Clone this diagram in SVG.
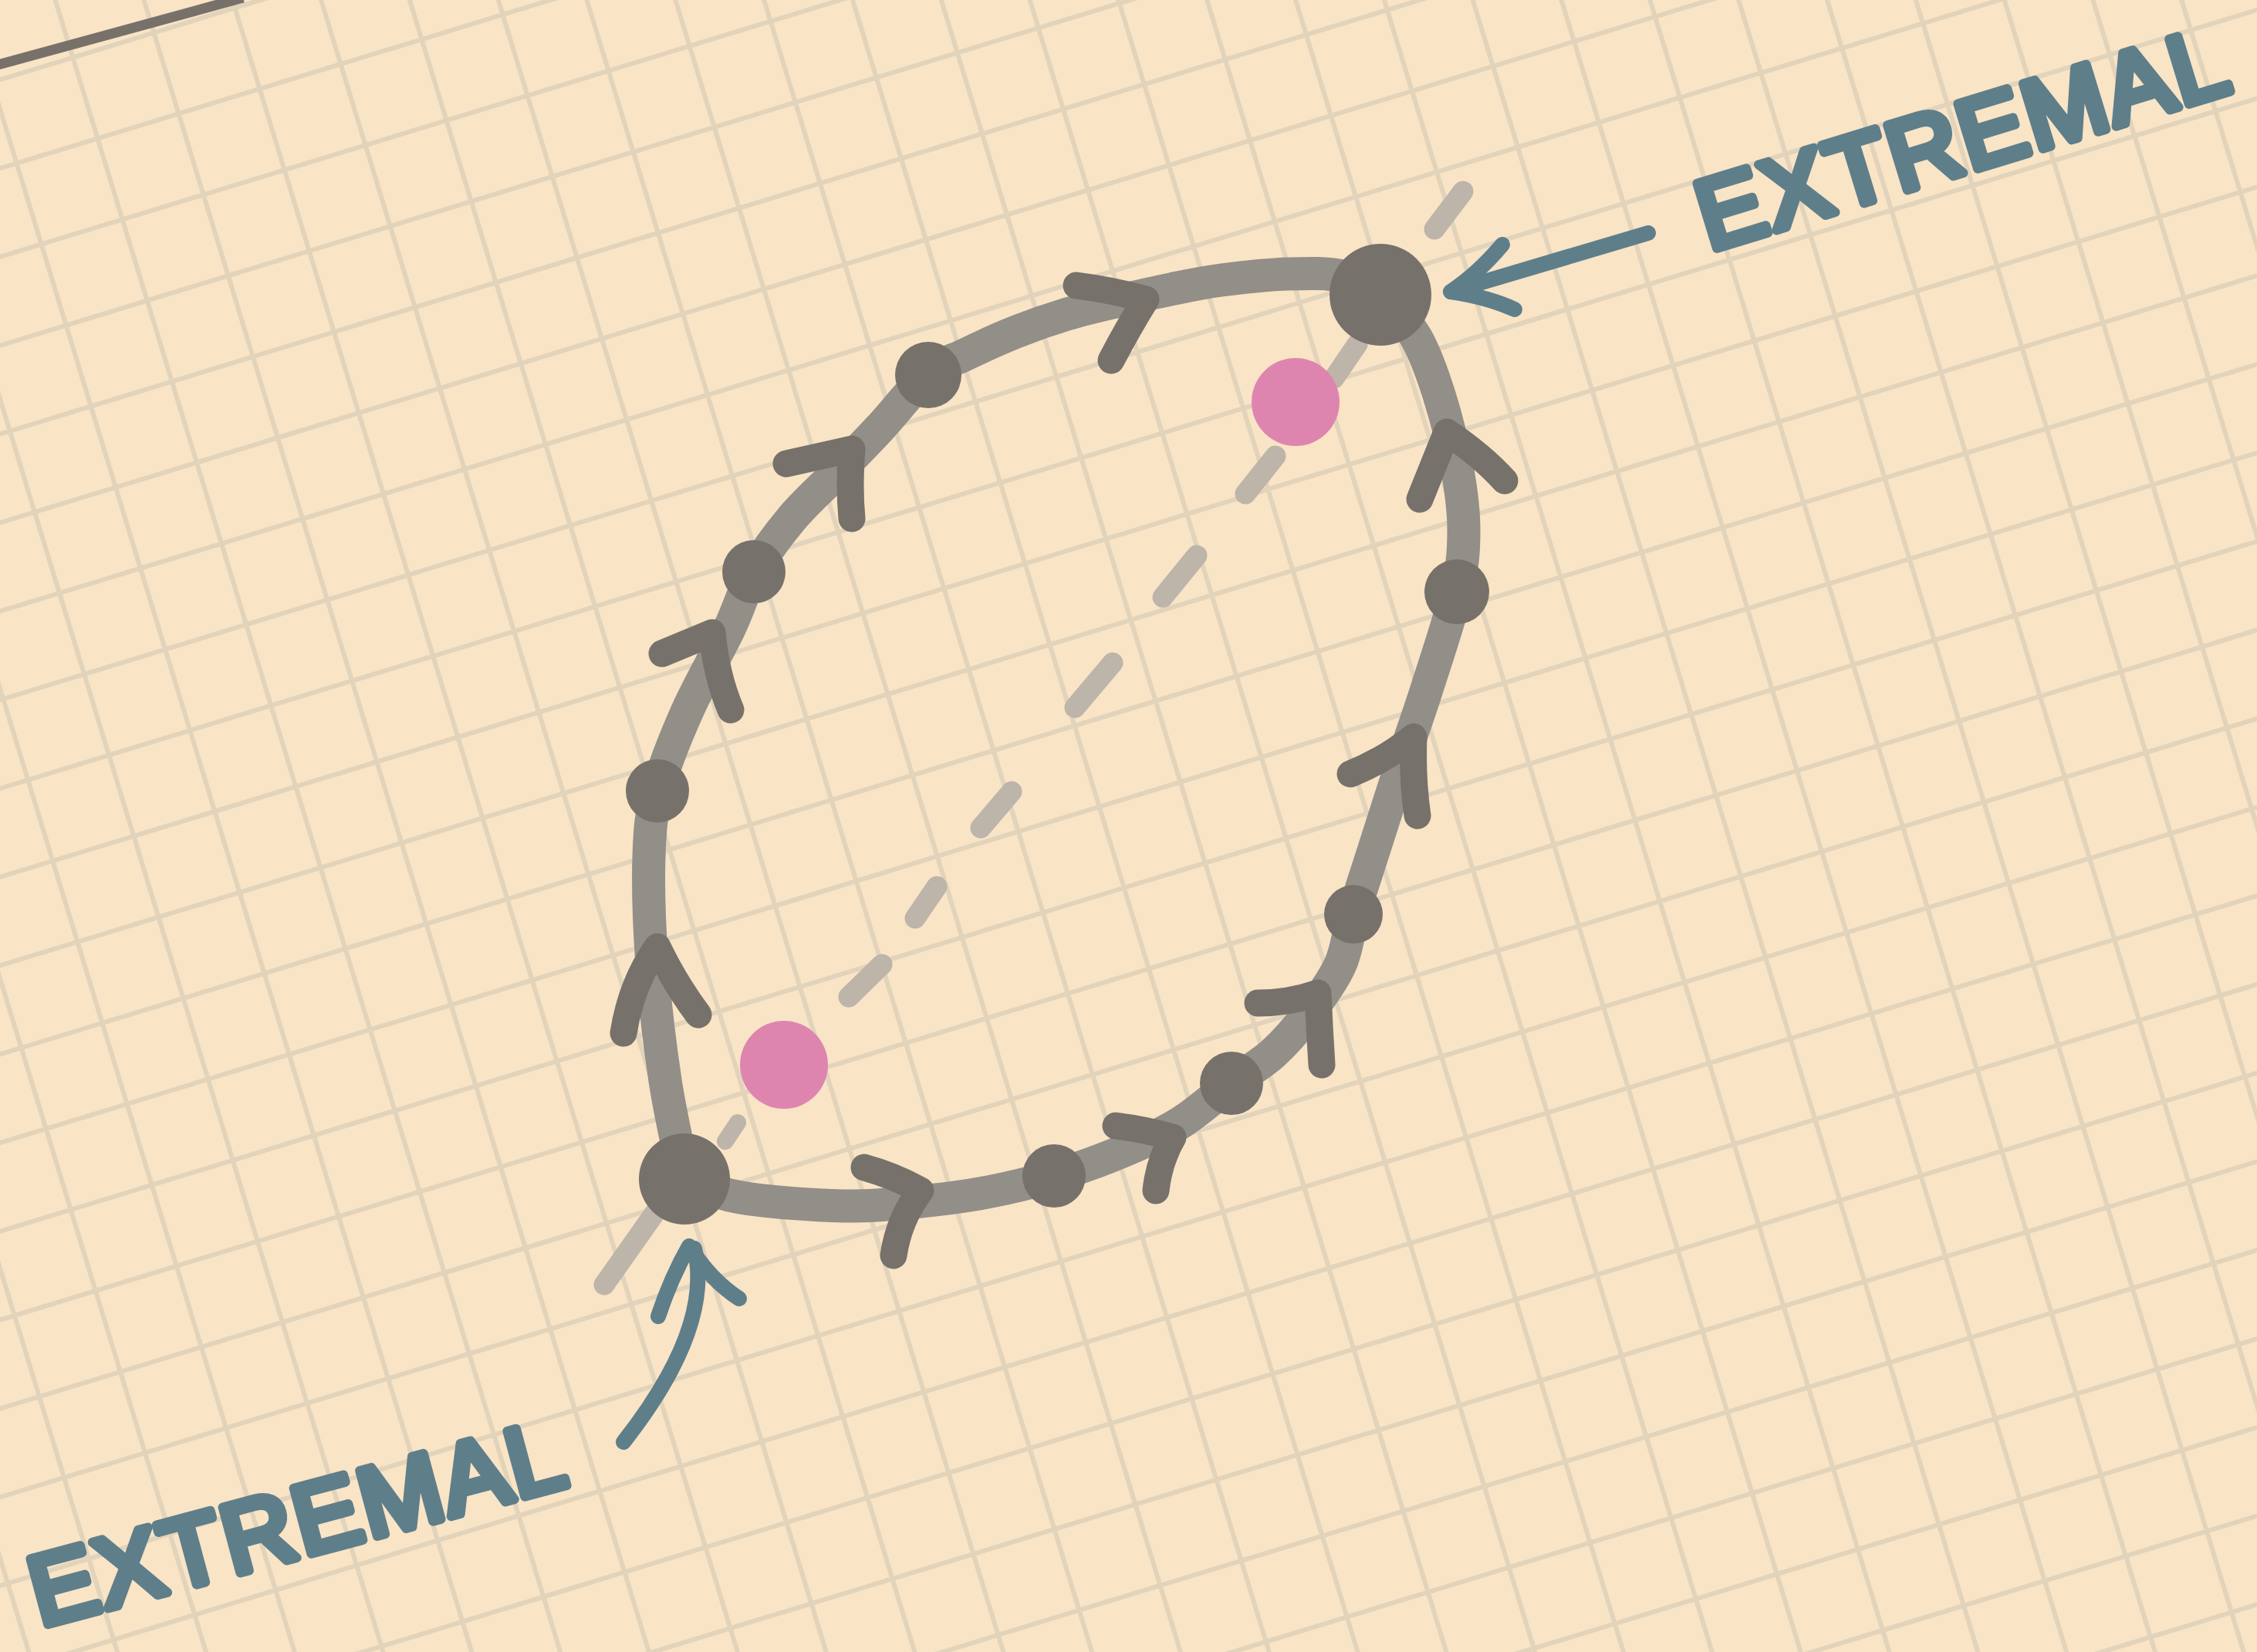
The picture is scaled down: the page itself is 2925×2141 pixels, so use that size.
<svg xmlns="http://www.w3.org/2000/svg" width="2925" height="2141" viewBox="0 0 2925 2141">
<style>
.grid{fill:none;stroke:#E2D3BB;stroke-width:6}
.loop{fill:none;stroke:#928E88;stroke-width:43;stroke-linecap:round;stroke-linejoin:round}
.chev{fill:none;stroke:#76716B;stroke-width:35;stroke-linecap:round;stroke-linejoin:round}
.dot{fill:#76716B}
.dash{fill:none;stroke:#BDB4AA;stroke-width:27;stroke-linecap:round}
.pink{fill:#DE85AF}
.blue{fill:none;stroke:#5E7E8A;stroke-width:20;stroke-linecap:round;stroke-linejoin:round}
.lbl{font-family:"Liberation Sans",Arial,sans-serif;font-weight:normal;font-size:128px;letter-spacing:3px;fill:#5E7E8A;stroke:#5E7E8A;stroke-width:12;stroke-linejoin:round;stroke-linecap:round}
</style>
<rect width="2925" height="2141" fill="#F9E4C6"/>
<g id="grid" transform="rotate(-17)">
<path class="grid" d="M-590.3 -60V3000M-480.5 -60V3000M-370.7 -60V3000M-260.9 -60V3000M-151.1 -60V3000M-41.3 -60V3000M68.5 -60V3000M178.3 -60V3000M288.1 -60V3000M397.9 -60V3000M507.7 -60V3000M617.5 -60V3000M727.3 -60V3000M837.1 -60V3000M946.9 -60V3000M1056.7 -60V3000M1166.5 -60V3000M1276.3 -60V3000M1386.1 -60V3000M1495.9 -60V3000M1605.7 -60V3000M1715.5 -60V3000M1825.3 -60V3000M1935.1 -60V3000M2044.9 -60V3000M2154.7 -60V3000M2264.5 -60V3000M2374.3 -60V3000M2484.1 -60V3000M2593.9 -60V3000M2703.7 -60V3000M2813.5 -60V3000"/>
<path class="grid" d="M-700 -11H2900M-700 98.8H2900M-700 208.6H2900M-700 318.4H2900M-700 428.2H2900M-700 538H2900M-700 647.8H2900M-700 757.6H2900M-700 867.4H2900M-700 977.2H2900M-700 1087H2900M-700 1196.8H2900M-700 1306.6H2900M-700 1416.4H2900M-700 1526.2H2900M-700 1636H2900M-700 1745.8H2900M-700 1855.6H2900M-700 1965.4H2900M-700 2075.2H2900M-700 2185H2900M-700 2294.8H2900M-700 2404.6H2900M-700 2514.4H2900M-700 2624.2H2900M-700 2734H2900M-700 2843.8H2900M-700 2953.6H2900"/>
</g>
<g id="edge-line">
<path d="M-10 86L315 -3" stroke="#77716A" stroke-width="13" fill="none"/>
</g>
<g id="dashed-line">
<path class="dash" d="M783 1665L855 1563"/>
<path class="dash" d="M940 1479L956 1455" style="stroke-width:22"/>
<path class="dash" d="M1100 1292L1143 1250"/>
<path class="dash" d="M1186 1190L1214 1149"/>
<path class="dash" d="M1271 1073L1311 1026"/>
<path class="dash" d="M1393 917L1442 859"/>
<path class="dash" d="M1507 774L1551 720"/>
<path class="dash" d="M1614 640L1653 591"/>
<path class="dash" d="M1729 490L1759 446"/>
<path class="dash" d="M1859 297L1896 248"/>
</g>
<g id="connectors">
<path id="path-upper" class="loop" d="M887 1528C878.7 1485.3 869 1446.3 862 1400C855 1353.7 848.5 1298.3 845 1250C841.5 1201.7 839.8 1147.5 841 1110C842.2 1072.5 843.8 1056.2 852 1025C860.2 993.8 874.5 958 890 923C905.5 888 930.5 845.3 945 815C959.5 784.7 963.5 764.8 977 741C990.5 717.2 1008 693.5 1026 672C1044 650.5 1066 631.5 1085 612C1104 592.5 1120.3 576.2 1140 555C1159.7 533.8 1184.7 500.8 1203 485C1221.3 469.2 1231 469.2 1250 460C1269 450.8 1294.8 438.8 1317 430C1339.2 421.2 1360.8 413.7 1383 407C1405.2 400.3 1427.7 395.3 1450 390C1472.3 384.7 1494.8 379.5 1517 375C1539.2 370.5 1557.5 366.3 1583 363C1608.5 359.7 1643.8 355.8 1670 355C1696.2 354.2 1720.2 353.5 1740 358C1759.8 362.5 1772.7 374 1789 382"/>
<path id="path-lower" class="loop" d="M887 1528C911.3 1536 925.7 1546.2 960 1552C994.3 1557.8 1054.2 1562.2 1093 1563C1131.8 1563.8 1161.8 1560 1193 1557C1224.2 1554 1251.2 1550.5 1280 1545C1308.8 1539.5 1336.8 1532.8 1366 1524C1395.2 1515.2 1427.7 1503.5 1455 1492C1482.3 1480.5 1506.5 1469.7 1530 1455C1553.5 1440.3 1576 1419 1596 1404C1616 1389 1633.2 1380.3 1650 1365C1666.8 1349.7 1682.5 1331.2 1697 1312C1711.5 1292.8 1727.5 1271.2 1737 1250C1746.5 1228.8 1746.7 1210 1754 1185C1761.3 1160 1771.2 1130.8 1781 1100C1790.8 1069.2 1801.5 1035 1813 1000C1824.5 965 1837.5 929.2 1850 890C1862.5 850.8 1880.2 798.3 1888 765C1895.8 731.7 1896.8 715.8 1897 690C1897.2 664.2 1894.2 639.2 1889 610C1883.8 580.8 1875 543.8 1866 515C1857 486.2 1847.8 459.2 1835 437C1822.2 414.8 1804.3 400.3 1789 382"/>
<g id="arrowheads">
<path class="chev" d="M1395 370Q1442 376 1485 388Q1462 425 1440 467"/>
<path class="chev" d="M1019 601L1104 582Q1100 630 1104 672"/>
<path class="chev" d="M858 847L923 820Q928 875 947 920"/>
<path class="chev" d="M808 1339Q818 1275 852 1227Q875 1275 905 1315"/>
<path class="chev" d="M1120 1513Q1160 1524 1193 1543Q1165 1580 1158 1627"/>
<path class="chev" d="M1446 1459Q1485 1464 1520 1474Q1502 1505 1498 1543"/>
<path class="chev" d="M1630 1300Q1670 1300 1708 1287Q1710 1335 1713 1380"/>
<path class="chev" d="M1750 1003Q1795 985 1832 955Q1830 1010 1837 1057"/>
<path class="chev" d="M1840 647L1875 560Q1920 590 1950 623"/>
</g>
</g>
<g id="node-extremal-top"><circle class="dot" cx="1789" cy="382" r="66"/></g>
<g id="node-extremal-bottom"><circle class="dot" cx="887" cy="1528" r="59"/></g>
<g id="node-1"><circle class="dot" cx="1203" cy="486" r="43"/></g>
<g id="node-2"><circle class="dot" cx="977" cy="741" r="41"/></g>
<g id="node-3"><circle class="dot" cx="852" cy="1025" r="41"/></g>
<g id="node-4"><circle class="dot" cx="1888" cy="767" r="42"/></g>
<g id="node-5"><circle class="dot" cx="1754" cy="1185" r="38"/></g>
<g id="node-6"><circle class="dot" cx="1596" cy="1404" r="41"/></g>
<g id="node-7"><circle class="dot" cx="1366" cy="1524" r="41"/></g>
<g id="pink-top"><circle class="pink" cx="1679" cy="521" r="57"/></g>
<g id="pink-bottom"><circle class="pink" cx="1016" cy="1380" r="57"/></g>
<g id="label-top">
<path class="blue" d="M2136 302Q2010 340 1880 378"/>
<path class="blue" d="M1947 317Q1915 355 1880 378Q1928 385 1963 401"/>
<text class="lbl" x="2215" y="325" transform="rotate(-17 2215 325)">EXTREMAL</text>
</g>
<g id="label-bottom">
<path class="blue" d="M808 1869Q925 1720 900 1618"/>
<path class="blue" d="M853 1706Q870 1655 893 1615Q922 1660 958 1683"/>
<text class="lbl" x="52" y="2108" transform="rotate(-15 52 2108)">EXTREMAL</text>
</g>
</svg>
